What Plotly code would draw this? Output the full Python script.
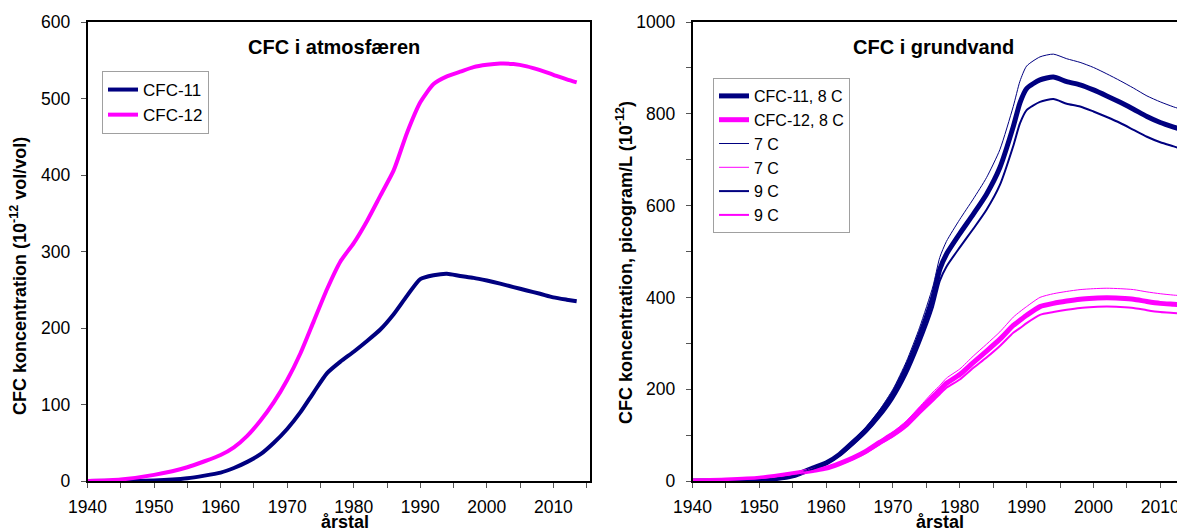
import plotly.graph_objects as go

# ---------------- data ----------------
years_atm = [1940, 1945, 1950, 1955, 1960, 1962, 1964, 1966, 1968, 1970, 1972, 1974, 1976, 1978,
             1980, 1982, 1984, 1986, 1988, 1990, 1992, 1994, 1996, 1998, 2000, 2002, 2004, 2006,
             2008, 2010, 2012, 2013.5]
cfc11_atm = [0, 0.2, 0.5, 3.5, 11, 17, 25, 35, 50, 68, 90, 116, 141, 156,
             169, 183, 198, 218, 242, 264, 269, 271, 268, 265.5, 262, 258, 253.5, 249,
             244.7, 240, 237, 235]
cfc12_atm = [0, 2, 8, 18, 34, 44, 59, 79, 103, 132, 167, 209, 251, 287,
             311, 340, 373, 406, 455, 495, 519, 529, 535, 541, 544, 545.6, 545, 542,
             537, 531, 525, 521]

years_gw = [1940, 1945, 1950, 1955, 1958, 1960, 1962, 1964, 1966, 1968, 1970, 1972, 1974, 1976,
            1977, 1978, 1980, 1982, 1984, 1986, 1988, 1989, 1990, 1992, 1994, 1996, 1998, 2000,
            2002, 2004, 2006, 2008, 2010, 2012, 2014]
cfc11_8c = [0, 0.5, 2, 11, 28, 39, 58, 84, 112, 147, 189, 246, 317, 402,
            461, 494, 539, 581, 625, 683, 772, 824, 855, 874, 880, 870, 863, 852,
            839, 825, 810, 794, 781, 771, 762]
cfc12_8c = [0, 2, 6, 16, 23, 28, 38, 50, 65, 84, 102, 124, 154, 184,
            198, 213, 232, 258, 283, 309, 339, 350, 361, 380, 387, 392, 396, 398,
            399, 398, 396, 391, 387, 385, 383]
cfc11_7c = [0, 0.5, 2, 12, 30, 41, 61, 89, 118, 155, 200, 260, 335, 425,
            487, 522, 570, 614, 661, 722, 816, 871, 904, 924, 930, 920, 912, 901,
            887, 872, 856, 839, 826, 815, 806]
cfc12_7c = [0, 2, 6, 17, 24, 29, 40, 53, 68, 88, 107, 131, 162, 194,
            208, 224, 244, 272, 298, 325, 357, 369, 380, 400, 408, 413, 417, 419,
            420, 419, 417, 412, 408, 405, 403]
cfc11_9c = [0, 0.5, 2, 10, 26, 37, 55, 79, 106, 139, 179, 232, 300, 380,
            436, 467, 509, 549, 591, 645, 730, 779, 808, 826, 832, 822, 816, 805,
            793, 780, 765, 750, 738, 729, 720]
cfc12_9c = [0, 2, 6, 15, 22, 27, 36, 48, 62, 80, 97, 118, 147, 175,
            189, 203, 221, 246, 269, 294, 323, 333, 344, 362, 368, 373, 377, 379,
            380, 379, 377, 372, 368, 366, 364]

NAVY = "#000080"
MAG = "#FF00FF"
FONT = "Liberation Sans, Arial, sans-serif"

fig = go.Figure()

# left panel
fig.add_trace(go.Scatter(x=years_atm, y=cfc11_atm, name="CFC-11", mode="lines",
                         line=dict(color=NAVY, width=4, shape="spline", smoothing=0.6),
                         xaxis="x", yaxis="y", legend="legend"))
fig.add_trace(go.Scatter(x=years_atm, y=cfc12_atm, name="CFC-12", mode="lines",
                         line=dict(color=MAG, width=4, shape="spline", smoothing=0.6),
                         xaxis="x", yaxis="y", legend="legend"))

# right panel
gw = [
    ("CFC-11, 8 C", cfc11_8c, NAVY, 5),
    ("CFC-12, 8 C", cfc12_8c, MAG, 5),
    ("7 C", cfc11_7c, NAVY, 1),
    ("7 C", cfc12_7c, MAG, 1),
    ("9 C", cfc11_9c, NAVY, 2),
    ("9 C", cfc12_9c, MAG, 2),
]
for name, vals, col, w in gw:
    fig.add_trace(go.Scatter(x=years_gw, y=vals, name=name, mode="lines",
                             line=dict(color=col, width=w, shape="spline", smoothing=0.6),
                             xaxis="x2", yaxis="y2", legend="legend2"))

# the page body has an 8 px margin; screen coords are converted to figure coords
OFF = 8
W, H = 1185 - OFF, 532 - OFF
def px(x):
    return (x - OFF) / W
def py(y):
    return 1 - (y - OFF) / H

tickfont = dict(family=FONT, size=17.5, color="#000")
common_x = dict(showline=True, linecolor="#000", linewidth=1.5, ticks="outside", ticklen=5,
                tickcolor="#555", tickfont=tickfont, showgrid=False, zeroline=False,
                dtick=10, tick0=1940, automargin=False, ticklabelstandoff=4,
                minor=dict(dtick=5, tick0=1940, ticks="outside", ticklen=5, tickcolor="#555", showgrid=False))

fig.update_layout(
    width=W, height=H,
    margin=dict(l=0, r=0, t=0, b=0),
    paper_bgcolor="white", plot_bgcolor="white",
    font=dict(family=FONT, color="#000"),
    xaxis=dict(domain=[px(87.5), px(590)], range=[1940, 2015.5], anchor="y", mirror=True, **common_x),
    yaxis=dict(domain=[py(481), py(22)], range=[0, 600], dtick=100, anchor="x",
               showline=True, linecolor="#000", linewidth=1.5, mirror=True,
               ticks="outside", ticklen=5, tickcolor="#555", tickfont=tickfont,
               showgrid=False, zeroline=False, automargin=False, ticklabelstandoff=7),
    xaxis2=dict(domain=[px(692.5), 1.0], range=[1940, 2013.7], anchor="y2", mirror=True, **common_x),
    yaxis2=dict(domain=[py(481), py(22)], range=[0, 1000], dtick=200, anchor="x2",
                showline=True, linecolor="#000", linewidth=1.5, mirror=False,
                ticks="outside", ticklen=5, tickcolor="#555", tickfont=tickfont,
                showgrid=False, zeroline=False, automargin=False, ticklabelstandoff=7,
                minor=dict(dtick=100, ticks="outside", ticklen=5, tickcolor="#555", showgrid=False)),
    legend=dict(x=px(102), y=py(71), xanchor="left", yanchor="top",
                bordercolor="#a0a0a0", borderwidth=1, bgcolor="white",
                font=dict(family=FONT, size=17, color="#000"), itemwidth=30),
    legend2=dict(x=px(713), y=py(78), xanchor="left", yanchor="top",
                 bordercolor="#a0a0a0", borderwidth=1, bgcolor="white",
                 font=dict(family=FONT, size=16, color="#000"), itemwidth=30),
    showlegend=True,
)

bold = dict(family=FONT, size=20, color="#000")
ann = [
    dict(text="<b>CFC i atmosfæren</b>", x=px(334), y=py(47), font=bold),
    dict(text="<b>CFC i grundvand</b>", x=px(933), y=py(47), font=bold),
    dict(text="<b>CFC koncentration (10<sup>-12</sup> vol/vol)</b>", x=px(18), y=py(276),
         textangle=-90, font=dict(family=FONT, size=18, color="#000")),
    dict(text="<b>CFC koncentration, picogram/L (10<sup>-12</sup>)</b>", x=px(624), y=py(262),
         textangle=-90, font=dict(family=FONT, size=18, color="#000")),
]
for a in ann:
    fig.add_annotation(xref="paper", yref="paper", showarrow=False,
                       xanchor="center", yanchor="middle", **a)
for cx in (345, 940):
    fig.add_annotation(text="<b>årstal</b>", xref="paper", yref="paper", x=px(cx), y=0,
                       xanchor="center", yanchor="bottom", yshift=-2, showarrow=False,
                       font=dict(family=FONT, size=18, color="#000"))

fig.write_html("out.html", config={"displayModeBar": False})
